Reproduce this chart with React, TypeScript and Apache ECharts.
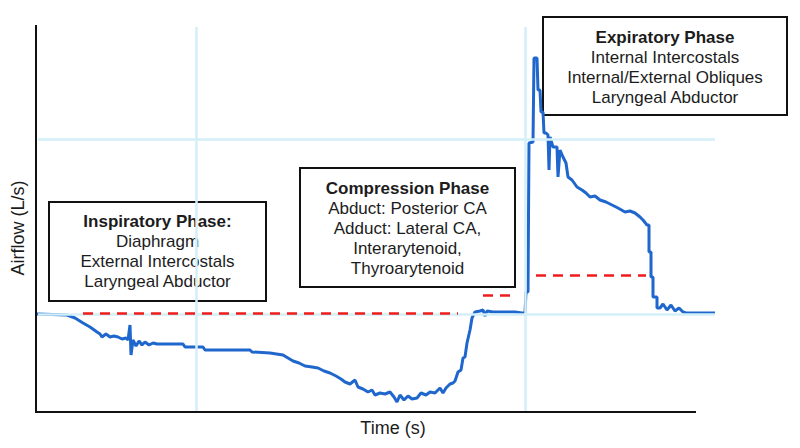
import React, { useEffect, useRef } from "react";
import * as echarts from "echarts";

// Time (s) and airflow (L/s) samples
const time = [
  0.01, 0.31, 0.39, 0.47, 0.54, 0.61, 0.64, 0.66, 0.70, 0.74, 0.78, 0.82, 0.86, 0.90, 0.92, 0.94, 0.95, 0.97,
  1.00, 1.03, 1.06, 1.09, 1.13, 1.17, 1.21, 1.47, 1.49, 1.67, 1.69, 2.14, 2.16, 2.34, 2.47, 2.52, 2.57, 2.63,
  2.69, 2.76, 2.82, 2.88, 2.94, 3.00, 3.05, 3.09, 3.14, 3.19, 3.22, 3.27, 3.32, 3.36, 3.39, 3.44, 3.49, 3.54,
  3.58, 3.61, 3.64, 3.68, 3.72, 3.76, 3.81, 3.85, 3.90, 3.94, 3.99, 4.04, 4.07, 4.10, 4.14, 4.17, 4.19, 4.22,
  4.25, 4.27, 4.29, 4.31, 4.34, 4.36, 4.39, 4.44, 4.47, 4.49, 4.51, 4.57, 4.79, 4.86, 4.89, 4.90, 4.92, 4.93,
  4.97, 4.98, 5.01, 5.02, 5.04, 5.05, 5.07, 5.08, 5.10, 5.12, 5.13, 5.14, 5.17, 5.21, 5.22, 5.24, 5.27, 5.30,
  5.32, 5.36, 5.41, 5.46, 5.50, 5.54, 5.59, 5.64, 5.70, 5.76, 5.82, 5.89, 5.94, 5.99, 6.04, 6.07, 6.11, 6.13,
  6.13, 6.15, 6.15, 6.17, 6.17, 6.21, 6.21, 6.24, 6.27, 6.31, 6.35, 6.39, 6.43, 6.47, 6.50, 6.79,
];
const flow = [
  -0.01, -0.02, -0.05, -0.10, -0.14, -0.19, -0.21, -0.24, -0.21, -0.24, -0.23, -0.24, -0.26, -0.25, -0.27, -0.12, -0.42, -0.27,
  -0.33, -0.28, -0.32, -0.29, -0.32, -0.30, -0.31, -0.31, -0.34, -0.34, -0.37, -0.37, -0.39, -0.40, -0.42, -0.45, -0.48, -0.50,
  -0.53, -0.54, -0.55, -0.58, -0.60, -0.63, -0.66, -0.69, -0.71, -0.67, -0.74, -0.76, -0.79, -0.77, -0.82, -0.80, -0.81, -0.79,
  -0.84, -0.89, -0.82, -0.87, -0.83, -0.86, -0.85, -0.80, -0.82, -0.79, -0.80, -0.75, -0.80, -0.75, -0.71, -0.70, -0.68, -0.59,
  -0.57, -0.45, -0.44, -0.30, -0.17, -0.05, 0.01, 0.02, 0.03, -0.03, 0.02, 0.01, 0.01, 0.00, 0.00, 0.21, 0.21, 1.70,
  1.71, 2.55, 2.55, 2.23, 2.23, 2.01, 2.01, 1.80, 1.80, 1.78, 1.43, 1.76, 1.66, 1.66, 1.36, 1.63, 1.56, 1.50,
  1.36, 1.33, 1.26, 1.23, 1.20, 1.16, 1.17, 1.13, 1.11, 1.08, 1.05, 1.01, 1.02, 1.00, 0.96, 0.93, 0.88, 0.88,
  0.61, 0.61, 0.36, 0.36, 0.16, 0.16, 0.05, 0.05, 0.09, 0.03, 0.08, 0.02, 0.05, 0.01, 0.00, 0.00,
];

// Red dashed reference levels
const refStart = [0.47, 4.47, 5.0];
const refEnd = [4.22, 4.76, 6.1];
const refLevel = [0.0, 0.18, 0.38];

// Light grid lines
const gridTimes = [1.6, 4.89];
const gridFlows = [1.74, -0.01];

// Annotation boxes
const inspLines = ["Inspiratory Phase:", "Diaphragm", "External Intercostals", "Laryngeal Abductor"];
const compLines = [
  "Compression Phase",
  "Abduct: Posterior CA",
  "Adduct: Lateral CA,",
  "Interarytenoid,",
  "Thyroarytenoid",
];
const expLines = ["Expiratory Phase", "Internal Intercostals", "Internal/External Obliques", "Laryngeal Abductor"];

const FONT = "'Liberation Sans', Arial, sans-serif";

function box(x: number, y: number, w: number, h: number, lines: string[], firstY: number) {
  const children: any[] = [
    {
      type: "rect",
      shape: { x, y, width: w, height: h },
      style: { fill: "#ffffff", stroke: "#111111", lineWidth: 2 },
    },
  ];
  lines.forEach((t, i) => {
    children.push({
      type: "text",
      style: {
        text: t,
        x: x + w / 2,
        y: firstY + i * 20,
        textAlign: "center",
        textVerticalAlign: "middle",
        fontFamily: FONT,
        fontSize: 17,
        fontWeight: i === 0 ? "bold" : "normal",
        fill: "#1c1c1c",
      },
    });
  });
  return { type: "group", z: 100, children };
}

export default function App() {
  const ref = useRef<HTMLDivElement>(null);
  useEffect(() => {
    if (!ref.current) return;
    const chart = echarts.init(ref.current, undefined, { renderer: "svg" });
    const data = time.map((t, i) => [t, flow[i]]);
    const refLines = refStart.map((s, i) => [
      { coord: [s, refLevel[i]] },
      { coord: [refEnd[i], refLevel[i]] },
    ]);
    const gridLines = [
      ...gridTimes.map((t) => [{ coord: [t, 2.86] }, { coord: [t, -1.0] }]),
      ...gridFlows.map((f) => [{ coord: [0.02, f] }, { coord: [6.79, f] }]),
    ];
    chart.setOption({
      animation: false,
      backgroundColor: "#ffffff",
      grid: { left: 36, top: 13, width: 680, bottom: 35 },
      xAxis: {
        type: "value",
        min: 0,
        max: 6.8,
        axisLine: { show: false },
        axisTick: { show: false },
        axisLabel: { show: false },
        splitLine: { show: false },
      },
      yAxis: {
        type: "value",
        min: -1,
        max: 3,
        axisLine: { show: false },
        axisTick: { show: false },
        axisLabel: { show: false },
        splitLine: { show: false },
      },
      series: [
        {
          type: "line",
          data: [],
          z: 1,
          silent: true,
          markLine: {
            silent: true,
            symbol: ["none", "none"],
            label: { show: false },
            lineStyle: { color: "#d3eff7", width: 2.5, type: "solid" },
            data: gridLines,
          },
        },
        {
          type: "line",
          data,
          z: 3,
          showSymbol: false,
          symbol: "none",
          clip: false,
          lineStyle: { color: "#1f67cc", width: 3 },
          markLine: {
            silent: true,
            symbol: ["none", "none"],
            label: { show: false },
            lineStyle: { color: "#ee1c1c", width: 2.5, type: [10, 7] },
            data: refLines,
          },
        },
      ],
      graphic: [
        { type: "line", z: 50, shape: { x1: 36, y1: 25, x2: 36, y2: 413 }, style: { stroke: "#111111", lineWidth: 2 } },
        { type: "line", z: 50, shape: { x1: 35, y1: 412, x2: 696, y2: 412 }, style: { stroke: "#111111", lineWidth: 2 } },
        {
          type: "text",
          z: 50,
          x: 18,
          y: 228,
          rotation: Math.PI / 2,
          style: {
            text: "Airflow (L/s)",
            x: 0,
            y: 0,
            textAlign: "center",
            textVerticalAlign: "middle",
            fontFamily: FONT,
            fontSize: 18,
            fill: "#1c1c1c",
          },
        },
        {
          type: "text",
          z: 50,
          style: {
            text: "Time (s)",
            x: 393,
            y: 428,
            textAlign: "center",
            textVerticalAlign: "middle",
            fontFamily: FONT,
            fontSize: 18,
            fill: "#1c1c1c",
          },
        },
        box(49, 202, 217, 99, inspLines, 221),
        box(300, 168, 215, 119, compLines, 188),
        box(543, 17, 244, 98, expLines, 37),
      ],
    });
    return () => chart.dispose();
  }, []);
  return (
    <div
      ref={ref}
      style={{ position: "fixed", left: 0, top: 0, width: 800, height: 448, background: "#fff" }}
    />
  );
}
